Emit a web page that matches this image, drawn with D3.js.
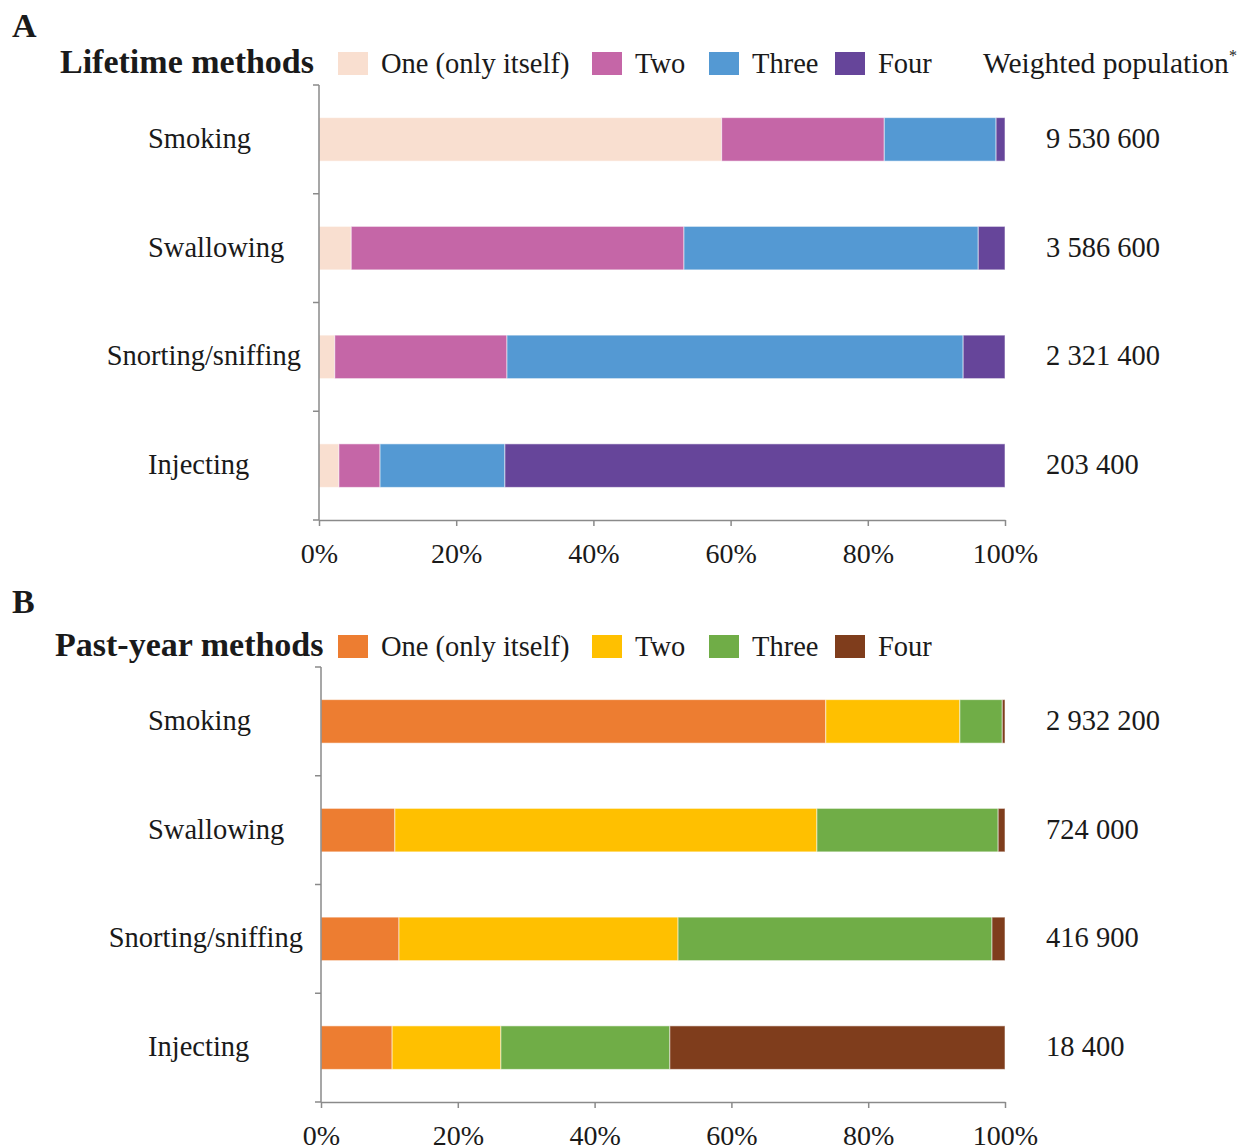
<!DOCTYPE html>
<html>
<head>
<meta charset="utf-8">
<script src="https://cdn.jsdelivr.net/npm/d3@7"></script>
<style>
  body { margin: 0; background: #fff; }
  svg text { font-family: "Liberation Serif", "Times New Roman", serif; fill: #1a1a1a; }
</style>
</head>
<body>
<div id="chart"></div>
<script>
// Data (segment shares in %)
const categories = ['Smoking', 'Swallowing', 'Snorting/sniffing', 'Injecting'];
const methodLevels = ['One (only itself)', 'Two', 'Three', 'Four'];

const lifetimeOne   = [58.7, 4.7, 2.3, 2.9];
const lifetimeTwo   = [23.7, 48.5, 25.1, 6.0];
const lifetimeThree = [16.3, 42.9, 66.5, 18.2];
const lifetimeFour  = [1.3, 3.9, 6.1, 72.9];
const lifetimePopulation = [9530600, 3586600, 2321400, 203400];

const pastYearOne   = [73.8, 10.8, 11.4, 10.4];
const pastYearTwo   = [19.6, 61.7, 40.8, 15.9];
const pastYearThree = [6.2, 26.5, 45.9, 24.7];
const pastYearFour  = [0.4, 1.0, 1.9, 49.0];
const pastYearPopulation = [2932200, 724000, 416900, 18400];

const xTicks = [0, 20, 40, 60, 80, 100];

const lifetimeColors = ['#f9dfd0', '#c566a7', '#5499d3', '#66459a'];
const pastYearColors = ['#ed7d31', '#ffc000', '#70ad47', '#7f3d1c'];

const svg = d3.select('#chart')
    .append('svg')
    .attr('width', 1250)
    .attr('height', 1148);

// thousands with spaces, e.g. 9 530 600
const fmtPop = v => d3.format(',')(v).replace(/,/g, ' ');

function drawPanel(opts) {
    const series = [opts.one, opts.two, opts.three, opts.four];
    const rows = categories.map((c, i) => {
        const row = {category: c};
        methodLevels.forEach((m, k) => { row[m] = series[k][i]; });
        return row;
    });
    const stacked = d3.stack().keys(methodLevels)(rows);

    const x = d3.scaleLinear().domain([0, 100]).range([opts.left, 1005]);
    const y = d3.scaleBand()
        .domain(categories)
        .range([opts.top, opts.top + 435])
        .paddingInner(0.6)
        .paddingOuter(0.3);

    const color = d3.scaleOrdinal().domain(methodLevels).range(opts.colors);

    const g = svg.append('g');

    // panel letter + title
    g.append('text')
        .attr('x', 12).attr('y', opts.letterY)
        .attr('font-size', 34).attr('font-weight', 'bold')
        .text(opts.letter);
    g.append('text')
        .attr('x', opts.titleX).attr('y', opts.legendY)
        .attr('font-size', 34).attr('font-weight', 'bold')
        .text(opts.title);

    // legend
    const legendX = [338, 592, 709, 835];
    methodLevels.forEach((m, k) => {
        g.append('rect')
            .attr('x', legendX[k]).attr('y', opts.legendY - 21)
            .attr('width', 30).attr('height', 23)
            .attr('fill', color(m));
        g.append('text')
            .attr('x', legendX[k] + 43).attr('y', opts.legendY)
            .attr('font-size', 28.5)
            .text(m);
    });
    if (opts.showPopHeader) {
        const h = g.append('text')
            .attr('x', 983).attr('y', opts.legendY)
            .attr('font-size', 29.5)
            .text('Weighted population');
        h.append('tspan')
            .attr('font-size', 16).attr('dy', -12)
            .text('*');
    }

    // bars
    g.selectAll('g.layer')
        .data(stacked)
        .join('g')
        .attr('class', 'layer')
        .attr('fill', d => color(d.key))
        .selectAll('rect')
        .data(d => d)
        .join('rect')
        .attr('x', d => x(d[0]))
        .attr('y', d => y(d.data.category))
        .attr('width', d => x(d[1]) - x(d[0]))
        .attr('height', y.bandwidth())
        .attr('stroke', 'rgba(255,255,255,0.55)')
        .attr('stroke-width', 1);

    // x axis
    const xAxis = g.append('g')
        .attr('transform', `translate(0,${opts.top + 435})`)
        .call(d3.axisBottom(x).tickValues(xTicks).tickFormat(d => d + '%')
            .tickSize(6).tickPadding(17).tickSizeOuter(0));
    xAxis.select('.domain').attr('stroke', '#8a8a8a').attr('stroke-width', 1.5);
    xAxis.selectAll('.tick line').attr('stroke', '#8a8a8a').attr('stroke-width', 1.5);
    xAxis.selectAll('.tick text')
        .attr('font-size', 28)
        .attr('font-family', '"Liberation Serif", "Times New Roman", serif')
        .attr('fill', '#1a1a1a');

    // y axis line with ticks at band boundaries
    const yLine = g.append('g');
    yLine.append('line')
        .attr('x1', opts.left).attr('x2', opts.left)
        .attr('y1', opts.top).attr('y2', opts.top + 435)
        .attr('stroke', '#8a8a8a').attr('stroke-width', 1.5);
    const bounds = categories.map(c => y(c) - y.step() * y.paddingInner() / 2)
        .concat([opts.top + 435]);
    yLine.selectAll('line.tk')
        .data(bounds)
        .join('line')
        .attr('class', 'tk')
        .attr('x1', opts.left - 6).attr('x2', opts.left)
        .attr('y1', d => d).attr('y2', d => d)
        .attr('stroke', '#8a8a8a').attr('stroke-width', 1.5);

    // category labels
    g.selectAll('text.cat')
        .data(categories)
        .join('text')
        .attr('class', 'cat')
        .attr('font-size', 28.5)
        .attr('y', d => y(d) + y.bandwidth() / 2)
        .attr('dy', '0.3em')
        .attr('x', 148)
        .text(d => d)
        .each(function() {
            const w = this.getComputedTextLength();
            if (148 + w > opts.left - 18) {
                d3.select(this).attr('x', opts.left - 18 - w);
            }
        });

    // population values
    const pops = opts.population;
    g.selectAll('text.pop')
        .data(categories)
        .join('text')
        .attr('class', 'pop')
        .attr('font-size', 28.5)
        .attr('x', 1046)
        .attr('y', d => y(d) + y.bandwidth() / 2)
        .attr('dy', '0.3em')
        .text((d, i) => fmtPop(pops[i]));
}

drawPanel({
    letter: 'A', letterY: 37,
    title: 'Lifetime methods', titleX: 60, legendY: 73,
    top: 85, left: 319,
    one: lifetimeOne, two: lifetimeTwo, three: lifetimeThree, four: lifetimeFour,
    population: lifetimePopulation,
    colors: lifetimeColors,
    showPopHeader: true
});

drawPanel({
    letter: 'B', letterY: 613,
    title: 'Past-year methods', titleX: 55, legendY: 656,
    top: 667, left: 321,
    one: pastYearOne, two: pastYearTwo, three: pastYearThree, four: pastYearFour,
    population: pastYearPopulation,
    colors: pastYearColors,
    showPopHeader: false
});
</script>
</body>
</html>
